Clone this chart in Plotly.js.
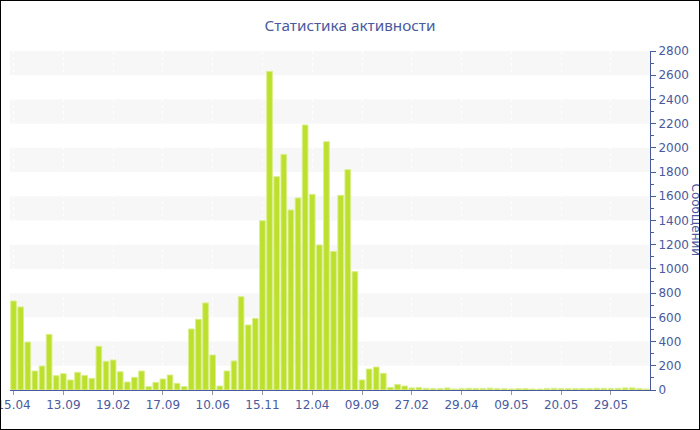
<!DOCTYPE html>
<html>
<head>
<meta charset="utf-8">
<script src="https://cdn.plot.ly/plotly-3.0.1.min.js"></script>
<style>
html,body{margin:0;padding:0;background:#fff;}
#wrap{position:relative;width:700px;height:430px;}
#chart{width:700px;height:430px;}
#frame{position:absolute;left:0;top:0;width:698px;height:428px;border:1px solid #000;pointer-events:none;}
</style>
</head>
<body>
<div id="wrap"><div id="chart"></div><div id="frame"></div></div>
<script>
const values = [735,686,396,157,198,460,118,135,83,146,
  121,96,361,237,248,151,66,105,157,28,
  63,91,124,55,28,504,584,719,289,33,
  157,240,771,537,592,1398,2632,1762,1946,1487,
  1586,2189,1616,1198,2051,1145,1608,1820,977,83,
  173,190,138,22,46,33,17,20,14,12,
  12,17,8,10,14,13,12,15,11,11,
  8,11,11,8,8,11,14,11,11,11,
  11,11,14,14,11,14,17,17,11,8];
const tickLabels = ["15.04","13.09","19.02","17.09","10.06","15.11","12.04","09.09","27.02","29.04","09.05","20.05","29.05"];
const tickStep = 7;
const titleText = "Статистика активности";
const yTitle = "Сообщений";

const xs = values.map((v,i)=>i);
const tickvals = tickLabels.map((t,i)=>i*tickStep);
const blue = "#4a5a9e";
const yMax = 2800, yStep = 200;

const shapes = [];
for (let y = yStep; y < yMax; y += 2*yStep) {
  shapes.push({type:'rect', xref:'paper', yref:'y', x0:0, x1:1, y0:y, y1:y+yStep,
    fillcolor:'#f7f7f7', line:{width:0}, layer:'below'});
}

const trace = {
  type:'bar', x: xs, y: values,
  marker:{color:'#bde02e', line:{color:'#d9ef8c', width:1}},
  hoverinfo:'y'
};

const layout = {
  width:700, height:430,
  margin:{l:10, r:50, t:51, b:40},
  paper_bgcolor:'#fff', plot_bgcolor:'rgba(0,0,0,0)',
  font:{family:'DejaVu Sans, Verdana, sans-serif', color:blue, size:12},
  title:{text:titleText, x:0.5, xref:'container', y:0.94, yanchor:'middle',
    font:{family:'Noto Sans, sans-serif', size:15.3, color:blue}},
  bargap:0.2,
  showlegend:false,
  xaxis:{range:[-0.5, values.length-0.5], tickmode:'array', tickvals:tickvals, ticktext:tickLabels,
    ticks:'outside', ticklen:4, tickcolor:'#999', showline:true, linecolor:blue, linewidth:1,
    showgrid:true, gridcolor:'#ffffff', griddash:'dot', zeroline:false, fixedrange:true,
    ticklabeloverflow:'allow', automargin:false,
    tickfont:{size:12, color:blue}},
  yaxis:{side:'right', range:[0,yMax], dtick:yStep, tick0:0, showgrid:false, zeroline:false,
    showline:true, linecolor:blue, linewidth:1, ticks:'outside', ticklen:5, tickcolor:blue,
    minor:{dtick:100, ticks:'outside', ticklen:3, tickcolor:blue},
    tickfont:{size:12, color:blue}, fixedrange:true},
  shapes:shapes,
  annotations:[{text:yTitle, xref:'paper', yref:'paper', x:1.0734, y:0.5, textangle:90,
    showarrow:false, xanchor:'center', yanchor:'middle', font:{size:12, color:blue}}]
};
Plotly.newPlot('chart', [trace], layout, {displayModeBar:false, staticPlot:true});
</script>
</body>
</html>
